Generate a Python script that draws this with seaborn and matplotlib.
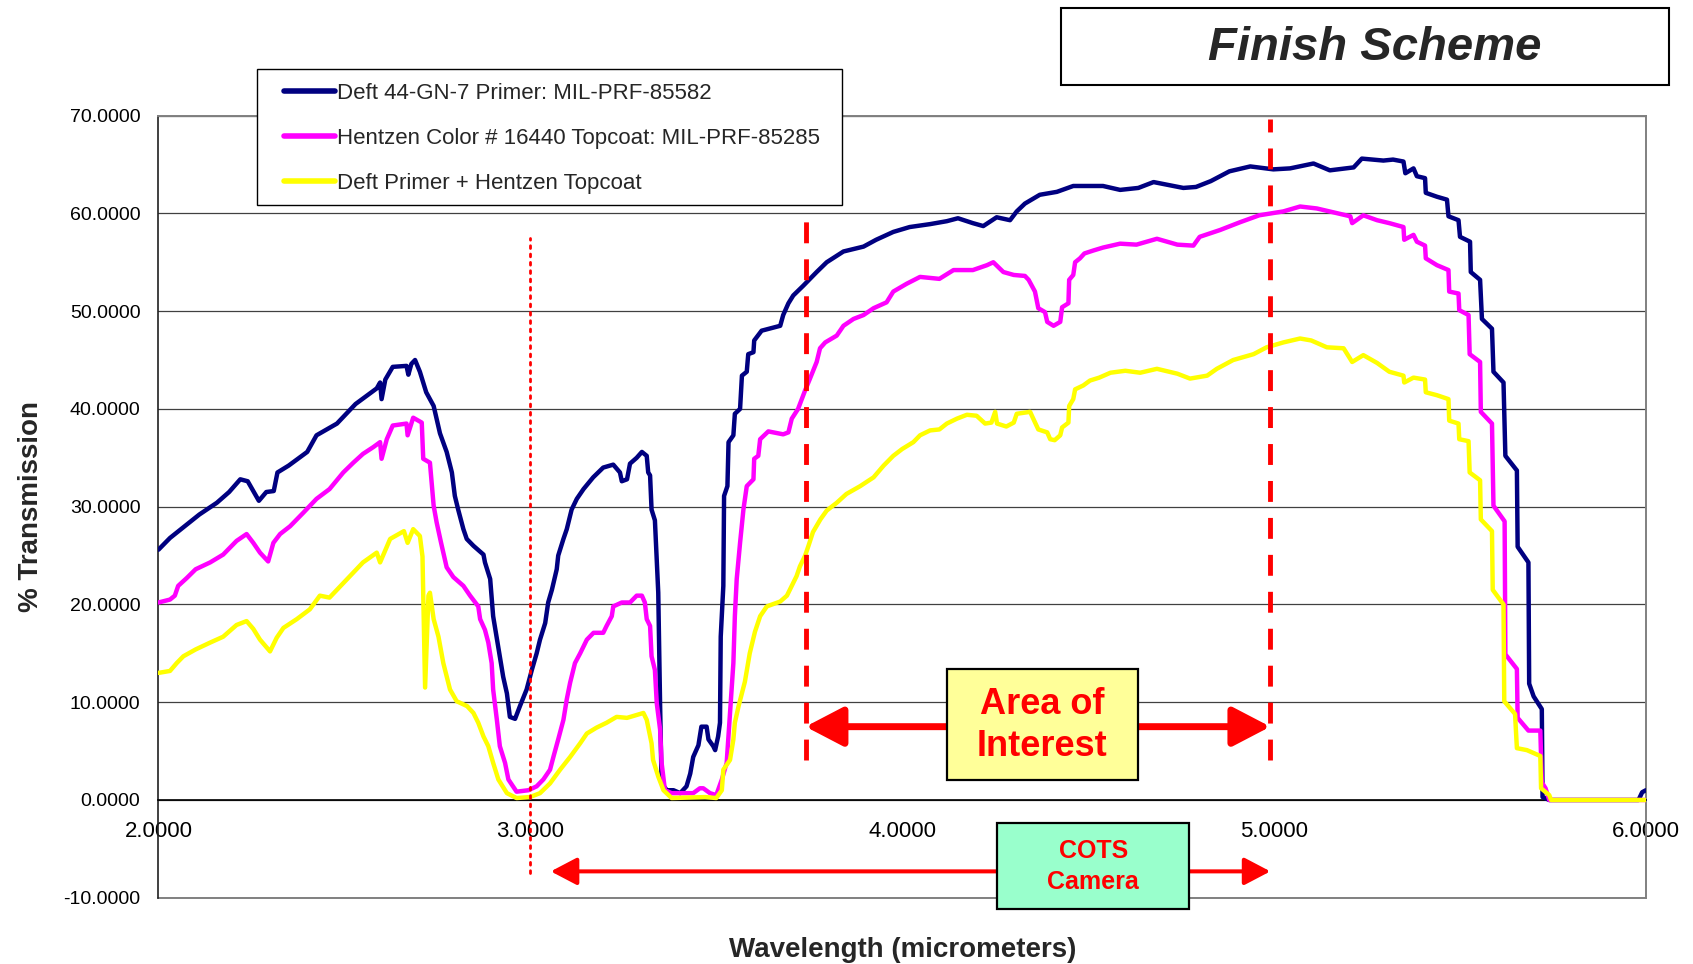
import matplotlib
matplotlib.use("Agg")
import matplotlib.pyplot as plt
import seaborn as sns
from matplotlib.patches import Rectangle

# --- data: wavelength (micrometers) and % transmission ---
primer_wl = [2.000, 2.031, 2.067, 2.110, 2.157, 2.190, 2.220, 2.240, 2.270, 2.290, 2.310, 2.320,
             2.350, 2.400, 2.425, 2.480, 2.530, 2.587, 2.596, 2.600, 2.610, 2.630, 2.667, 2.672,
             2.680, 2.690, 2.703, 2.720, 2.740, 2.757, 2.775, 2.789, 2.797, 2.806, 2.820, 2.829,
             2.847, 2.874, 2.878, 2.892, 2.900, 2.918, 2.927, 2.937, 2.945, 2.959, 2.972, 2.990,
             3.004, 3.017, 3.026, 3.040, 3.048, 3.058, 3.071, 3.075, 3.089, 3.098, 3.111, 3.125,
             3.143, 3.169, 3.196, 3.223, 3.241, 3.246, 3.260, 3.268, 3.286, 3.300, 3.313, 3.317,
             3.322, 3.326, 3.335, 3.344, 3.349, 3.353, 3.367, 3.385, 3.403, 3.420, 3.430, 3.438,
             3.452, 3.460, 3.474, 3.479, 3.492, 3.497, 3.505, 3.510, 3.512, 3.519, 3.521, 3.530,
             3.533, 3.546, 3.550, 3.564, 3.569, 3.582, 3.586, 3.600, 3.602, 3.622, 3.672, 3.680,
             3.694, 3.707, 3.734, 3.770, 3.797, 3.842, 3.896, 3.930, 3.976, 4.020, 4.075, 4.120,
             4.150, 4.190, 4.218, 4.254, 4.290, 4.308, 4.330, 4.370, 4.416, 4.460, 4.540, 4.586,
             4.635, 4.676, 4.756, 4.790, 4.830, 4.880, 4.936, 4.998, 5.043, 5.106, 5.150, 5.214,
             5.236, 5.294, 5.320, 5.348, 5.353, 5.375, 5.384, 5.406, 5.408, 5.438, 5.465, 5.469,
             5.496, 5.500, 5.527, 5.529, 5.554, 5.559, 5.586, 5.590, 5.617, 5.622, 5.653, 5.655,
             5.684, 5.686, 5.698, 5.720, 5.722, 5.740, 5.980, 5.990, 6.000]
primer_pct = [25.6, 26.8, 27.9, 29.2, 30.4, 31.5, 32.8, 32.6, 30.6, 31.5, 31.6, 33.5,
              34.2, 35.6, 37.3, 38.5, 40.5, 42.1, 42.7, 41.0, 43.0, 44.3, 44.4, 43.5,
              44.6, 45.0, 43.8, 41.7, 40.3, 37.5, 35.6, 33.5, 31.1, 29.7, 27.7, 26.7,
              26.0, 25.1, 24.3, 22.6, 18.8, 14.7, 12.6, 10.9, 8.5, 8.3, 9.6, 11.3,
              13.3, 15.0, 16.4, 18.1, 20.2, 21.5, 23.6, 25.0, 26.7, 27.7, 29.7, 30.8,
              31.8, 33.0, 34.0, 34.3, 33.5, 32.6, 32.8, 34.4, 35.0, 35.6, 35.2, 33.5,
              33.2, 29.7, 28.6, 21.2, 9.6, 1.7, 1.0, 1.0, 0.7, 1.4, 2.7, 4.4,
              5.6, 7.5, 7.5, 6.2, 5.5, 5.1, 6.5, 7.9, 16.7, 21.9, 31.1, 32.1,
              36.6, 37.3, 39.5, 40.0, 43.4, 43.8, 45.6, 45.8, 47.0, 48.0, 48.5, 49.6,
              50.8, 51.6, 52.6, 54.0, 55.0, 56.1, 56.6, 57.3, 58.1, 58.6, 58.9, 59.2,
              59.5, 59.0, 58.7, 59.6, 59.3, 60.2, 61.0, 61.9, 62.2, 62.8, 62.8, 62.4,
              62.6, 63.2, 62.6, 62.7, 63.3, 64.3, 64.8, 64.5, 64.6, 65.1, 64.4, 64.7,
              65.6, 65.4, 65.5, 65.3, 64.1, 64.6, 63.8, 63.6, 62.1, 61.7, 61.4, 59.7,
              59.3, 57.6, 57.1, 54.0, 53.2, 49.2, 48.2, 43.8, 42.7, 35.2, 33.7, 25.9,
              24.3, 11.9, 10.6, 9.3, 0.3, 0.0, 0.0, 0.8, 1.0]

topcoat_wl = [2.000, 2.031, 2.044, 2.053, 2.076, 2.100, 2.139, 2.174, 2.210, 2.237, 2.255, 2.273,
              2.295, 2.309, 2.327, 2.354, 2.390, 2.425, 2.460, 2.497, 2.524, 2.550, 2.578, 2.596,
              2.600, 2.614, 2.630, 2.667, 2.670, 2.685, 2.708, 2.712, 2.730, 2.740, 2.748, 2.760,
              2.775, 2.793, 2.820, 2.838, 2.860, 2.865, 2.878, 2.887, 2.896, 2.900, 2.910, 2.918,
              2.932, 2.941, 2.963, 2.995, 3.017, 3.035, 3.053, 3.062, 3.075, 3.089, 3.098, 3.107,
              3.120, 3.134, 3.152, 3.170, 3.196, 3.205, 3.219, 3.223, 3.246, 3.268, 3.286, 3.300,
              3.308, 3.313, 3.322, 3.326, 3.335, 3.340, 3.349, 3.353, 3.362, 3.380, 3.438, 3.456,
              3.465, 3.483, 3.500, 3.515, 3.528, 3.537, 3.546, 3.550, 3.555, 3.564, 3.573, 3.582,
              3.600, 3.602, 3.613, 3.618, 3.640, 3.680, 3.694, 3.703, 3.720, 3.726, 3.739, 3.752,
              3.770, 3.779, 3.793, 3.824, 3.842, 3.869, 3.896, 3.923, 3.958, 3.976, 4.012, 4.048,
              4.100, 4.138, 4.190, 4.228, 4.245, 4.272, 4.300, 4.330, 4.340, 4.353, 4.357, 4.366,
              4.384, 4.390, 4.407, 4.425, 4.430, 4.447, 4.449, 4.460, 4.465, 4.478, 4.490, 4.514,
              4.540, 4.586, 4.630, 4.685, 4.740, 4.783, 4.800, 4.855, 4.909, 4.960, 5.025, 5.070,
              5.115, 5.160, 5.205, 5.210, 5.240, 5.277, 5.310, 5.348, 5.350, 5.375, 5.384, 5.406,
              5.408, 5.438, 5.469, 5.471, 5.496, 5.498, 5.523, 5.526, 5.554, 5.556, 5.586, 5.590,
              5.620, 5.622, 5.653, 5.655, 5.684, 5.716, 5.720, 5.730, 5.740, 6.000]
topcoat_pct = [20.2, 20.5, 20.9, 21.9, 22.7, 23.6, 24.3, 25.1, 26.5, 27.2, 26.3, 25.3,
               24.4, 26.3, 27.2, 28.0, 29.4, 30.8, 31.8, 33.5, 34.5, 35.4, 36.1, 36.6,
               34.9, 36.9, 38.3, 38.5, 37.3, 39.1, 38.6, 34.9, 34.5, 30.1, 28.4, 26.3,
               23.8, 22.8, 21.9, 20.9, 19.8, 18.5, 17.4, 16.1, 14.0, 11.3, 8.2, 5.5,
               3.8, 2.1, 0.85, 1.0, 1.4, 2.1, 3.1, 4.4, 6.2, 8.2, 10.3, 12.0,
               14.0, 15.0, 16.4, 17.1, 17.1, 17.8, 18.8, 19.8, 20.2, 20.2, 20.9, 20.9,
               20.2, 18.5, 17.8, 14.7, 13.3, 9.9, 7.2, 3.8, 1.0, 0.7, 0.7, 1.2,
               1.2, 0.7, 0.5, 2.1, 3.8, 8.9, 14.0, 18.8, 22.6, 26.3, 29.7, 32.1,
               32.8, 34.9, 35.2, 36.9, 37.7, 37.4, 37.6, 39.0, 40.0, 40.6, 41.9, 43.1,
               44.8, 46.2, 46.8, 47.5, 48.5, 49.2, 49.6, 50.3, 50.9, 52.0, 52.8, 53.5,
               53.3, 54.2, 54.2, 54.7, 55.0, 54.0, 53.7, 53.6, 53.2, 52.3, 52.0, 50.3,
               49.9, 48.9, 48.5, 48.9, 50.4, 50.8, 53.2, 53.7, 55.0, 55.4, 55.9, 56.2,
               56.5, 56.9, 56.8, 57.4, 56.8, 56.7, 57.6, 58.3, 59.1, 59.8, 60.2, 60.7,
               60.5, 60.1, 59.7, 59.0, 59.8, 59.3, 59.0, 58.6, 57.3, 57.8, 57.1, 56.7,
               55.4, 54.7, 54.2, 52.0, 51.8, 50.1, 49.6, 45.6, 44.8, 39.7, 38.5, 30.1,
               28.5, 14.9, 13.4, 8.4, 7.1, 7.1, 1.8, 1.2, 0.0, 0.0]

combined_wl = [2.000, 2.031, 2.049, 2.067, 2.100, 2.139, 2.174, 2.210, 2.237, 2.255, 2.273, 2.300,
               2.318, 2.336, 2.372, 2.407, 2.434, 2.460, 2.480, 2.515, 2.550, 2.587, 2.596, 2.623,
               2.660, 2.670, 2.685, 2.703, 2.710, 2.717, 2.726, 2.730, 2.740, 2.753, 2.766, 2.784,
               2.802, 2.830, 2.847, 2.860, 2.874, 2.887, 2.900, 2.914, 2.937, 2.963, 2.999, 3.026,
               3.053, 3.080, 3.107, 3.134, 3.152, 3.178, 3.205, 3.232, 3.260, 3.286, 3.304, 3.313,
               3.326, 3.330, 3.344, 3.358, 3.380, 3.470, 3.500, 3.515, 3.519, 3.537, 3.546, 3.550,
               3.560, 3.577, 3.590, 3.604, 3.618, 3.636, 3.672, 3.690, 3.703, 3.716, 3.725, 3.739,
               3.748, 3.760, 3.780, 3.797, 3.824, 3.850, 3.887, 3.923, 3.950, 3.976, 4.000, 4.030,
               4.048, 4.075, 4.100, 4.120, 4.147, 4.174, 4.200, 4.223, 4.240, 4.250, 4.255, 4.280,
               4.300, 4.308, 4.344, 4.350, 4.366, 4.390, 4.398, 4.410, 4.425, 4.430, 4.447, 4.449,
               4.460, 4.465, 4.487, 4.505, 4.530, 4.560, 4.600, 4.640, 4.685, 4.740, 4.774, 4.820,
               4.846, 4.890, 4.945, 4.980, 5.025, 5.070, 5.100, 5.142, 5.187, 5.210, 5.240, 5.277,
               5.310, 5.348, 5.350, 5.375, 5.406, 5.408, 5.438, 5.469, 5.471, 5.496, 5.498, 5.523,
               5.526, 5.554, 5.556, 5.586, 5.588, 5.617, 5.619, 5.648, 5.653, 5.680, 5.716, 5.718,
               5.740, 5.745, 6.000]
combined_pct = [13.0, 13.2, 14.0, 14.7, 15.4, 16.1, 16.7, 17.9, 18.3, 17.5, 16.4, 15.2,
                16.6, 17.6, 18.5, 19.5, 20.9, 20.7, 21.5, 22.9, 24.3, 25.3, 24.3, 26.7,
                27.5, 26.3, 27.7, 27.0, 24.9, 11.5, 20.9, 21.2, 18.5, 16.7, 14.0, 11.3,
                10.1, 9.6, 8.9, 7.9, 6.5, 5.5, 3.8, 2.1, 0.7, 0.2, 0.3, 0.7,
                1.7, 3.1, 4.4, 5.8, 6.8, 7.4, 7.9, 8.5, 8.4, 8.7, 8.9, 8.2,
                5.8, 4.1, 2.4, 1.0, 0.2, 0.3, 0.2, 1.0, 3.1, 4.1, 6.2, 7.9,
                9.6, 12.1, 15.0, 17.2, 18.8, 19.8, 20.3, 20.9, 21.9, 22.9, 23.9, 25.0,
                26.0, 27.4, 28.7, 29.6, 30.4, 31.3, 32.1, 33.0, 34.2, 35.2, 35.9, 36.6,
                37.3, 37.8, 37.9, 38.5, 39.0, 39.4, 39.3, 38.5, 38.6, 39.7, 38.5, 38.2,
                38.6, 39.5, 39.7, 39.2, 37.9, 37.6, 36.9, 36.8, 37.3, 38.1, 38.6, 40.3,
                41.0, 42.0, 42.4, 42.9, 43.2, 43.7, 43.9, 43.7, 44.1, 43.6, 43.1, 43.4,
                44.1, 45.0, 45.6, 46.3, 46.8, 47.2, 47.0, 46.3, 46.2, 44.8, 45.5, 44.7,
                43.8, 43.4, 42.7, 43.2, 43.0, 41.7, 41.4, 41.0, 38.8, 38.5, 36.9, 36.7,
                33.5, 32.7, 28.7, 27.5, 21.5, 20.0, 10.1, 8.8, 5.3, 5.1, 4.5, 1.2,
                0.5, 0.0, 0.0]

series_labels = ["Deft 44-GN-7 Primer: MIL-PRF-85582",
                 "Hentzen Color # 16440 Topcoat: MIL-PRF-85285",
                 "Deft Primer + Hentzen Topcoat"]
series_colors = ["#000080", "#FF00FF", "#FFFF00"]

x_ticks = [2, 3, 4, 5, 6]
y_ticks = [-10, 0, 10, 20, 30, 40, 50, 60, 70]

# marker wavelengths for the annotations
cots_start = 3.0
aoi_start = 3.74
aoi_end = 4.99

RED = "#FF0000"

sns.set_style("white")
plt.rcParams["font.family"] = ["Liberation Sans", "DejaVu Sans"]

fig = plt.figure(figsize=(16.93, 9.64), dpi=100)
ax = fig.add_axes([0.0936, 0.0687, 0.8786, 0.8114])

series = [(primer_wl, primer_pct), (topcoat_wl, topcoat_pct), (combined_wl, combined_pct)]
for (wl, pct), label, color in zip(series, series_labels, series_colors):
    sns.lineplot(x=wl, y=pct, ax=ax, color=color, lw=3.2, label=label,
                 sort=False, estimator=None, zorder=3)

# category axis crosses at zero (set before tick labels, it resets the ticks)
ax.spines["bottom"].set_position(("data", 0))
ax.spines["bottom"].set_color("black")
ax.spines["bottom"].set_linewidth(1.2)
ax.spines["left"].set_color("#202020")
ax.spines["left"].set_linewidth(1.2)
for side in ("top", "right"):
    ax.spines[side].set_color("#808080")
    ax.spines[side].set_linewidth(1.4)
ax.axhline(-10, color="#808080", lw=1.4, clip_on=False, zorder=2)

ax.set_xlim(2, 6)
ax.set_ylim(-10, 70)
ax.set_xticks(x_ticks)
ax.set_xticklabels([f"{v:.4f}" for v in x_ticks], fontsize=16)
ax.set_yticks(y_ticks)
ax.set_yticklabels([f"{v:.4f}" for v in y_ticks], fontsize=14)
ax.tick_params(axis="x", direction="out", length=5, width=1, pad=10, colors="black")
ax.tick_params(axis="y", direction="out", length=5, width=1, pad=8, colors="black")

ax.set_axisbelow(True)
ax.yaxis.grid(True, color="#404040", lw=0.9)
ax.xaxis.grid(False)

ax.set_ylabel("% Transmission", fontsize=20, fontweight="bold")
ax.yaxis.set_label_coords(-0.077, 0.5)
ax.set_xlabel("Wavelength (micrometers)", fontsize=20, fontweight="bold")
ax.xaxis.set_label_coords(0.5, -0.05)

# red marker lines
ax.plot([cots_start, cots_start], [-7.5, 57.5], color=RED, lw=2,
        linestyle=(0, (1, 2)), dash_capstyle="round", zorder=4, clip_on=False)
for xv, top in ((aoi_start, 59.8), (aoi_end, 69.6)):
    ax.plot([xv, xv], [4.1, top], color=RED, lw=3.5,
            linestyle=(0, (4.3, 3.3)), zorder=4)

# double-headed arrows
ax.annotate("", xy=(aoi_end, 7.5), xytext=(aoi_start, 7.5),
            arrowprops=dict(arrowstyle="<|-|>,head_length=1.15,head_width=0.6",
                            mutation_scale=20, lw=5, color=RED, shrinkA=0, shrinkB=0),
            zorder=5)
ax.annotate("", xy=(aoi_end, -7.3), xytext=(3.055, -7.3),
            arrowprops=dict(arrowstyle="<|-|>,head_length=0.8,head_width=0.42",
                            mutation_scale=20, lw=2.9, color=RED, shrinkA=0, shrinkB=0),
            zorder=5, annotation_clip=False)

# labelled boxes
ax.add_patch(Rectangle((4.12, 2.05), 0.514, 11.35, facecolor="#FFFF99",
                       edgecolor="black", lw=1.6, zorder=6))
ax.text(4.377, 7.6, "Area of\nInterest", ha="center", va="center", fontsize=26,
        fontweight="bold", color=RED, linespacing=1.25, zorder=7)
ax.add_patch(Rectangle((4.256, -11.1), 0.516, 8.7, facecolor="#99FFCC",
                       edgecolor="black", lw=1.6, zorder=6, clip_on=False))
ax.text(4.514, -6.8, "COTS\nCamera", ha="center", va="center", fontsize=18,
        fontweight="bold", color=RED, linespacing=1.4, zorder=7, clip_on=False)

# legend: frame drawn separately so the padding matches the original box
if ax.get_legend() is not None:
    ax.get_legend().remove()
fig.patches.append(Rectangle((257 / 1693, 1 - 205 / 964), 585 / 1693, 136 / 964,
                             transform=fig.transFigure, facecolor="white",
                             edgecolor="black", lw=1.0, zorder=4))
handles, labels = ax.get_legend_handles_labels()
leg = fig.legend(handles, labels, loc="upper left", bbox_to_anchor=(284 / 1693, 1 - 83 / 964),
                 fontsize=16, frameon=False, borderaxespad=0, borderpad=0,
                 handlelength=2.3, handletextpad=0.1, labelspacing=1.08)
for line in leg.get_lines():
    line.set_linewidth(4)

# title box
fig.patches.append(Rectangle((0.6267, 0.9118), 0.3591, 0.0799, transform=fig.transFigure,
                             facecolor="white", edgecolor="black", lw=1.5))
fig.text(0.812, 0.9507, "Finish Scheme", ha="center", va="center", fontsize=34,
         fontweight="bold", fontstyle="italic")

fig.savefig("out.png", dpi=100)
